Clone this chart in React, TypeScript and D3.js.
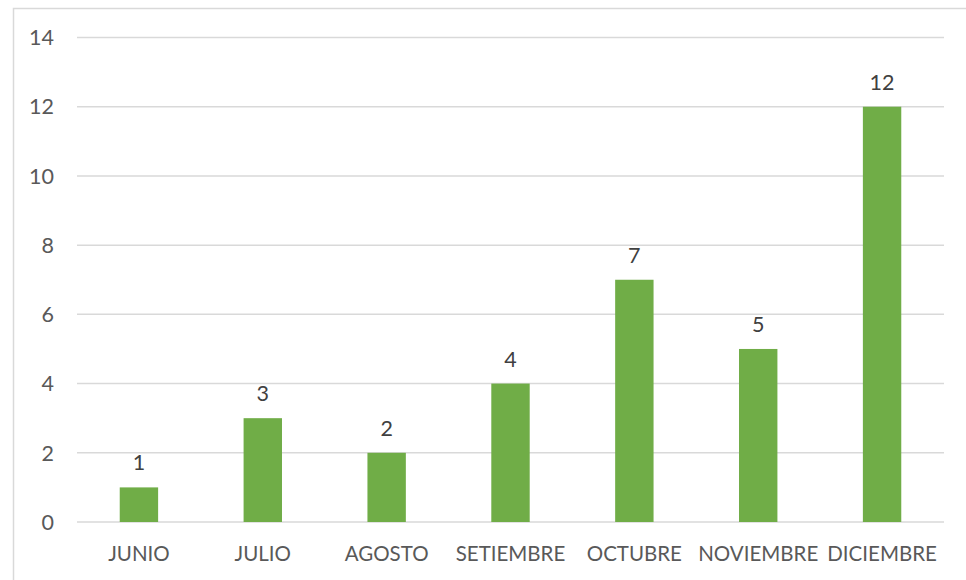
import React, { useRef, useEffect } from 'react';
import * as d3 from 'd3';

const months: string[] = ['JUNIO', 'JULIO', 'AGOSTO', 'SETIEMBRE', 'OCTUBRE', 'NOVIEMBRE', 'DICIEMBRE'];
const counts: number[] = [1, 3, 2, 4, 7, 5, 12];
const yTicks: number[] = [0, 2, 4, 6, 8, 10, 12, 14];

const App: React.FC = () => {
  const svgRef = useRef<SVGSVGElement | null>(null);

  useEffect(() => {
    if (!svgRef.current) return;
    const width = 966;
    const height = 580;
    const margin = { top: 37.5, right: 22, bottom: 58, left: 77 };
    const font = 'Lato, "Open Sans", sans-serif';
    const textColor = '#595959';

    const svg = d3.select(svgRef.current)
      .attr('width', width)
      .attr('height', height);
    svg.selectAll('*').remove();

    // chart frame (right/bottom edges fall outside the picture)
    svg.append('rect')
      .attr('x', 13.5).attr('y', 8.5)
      .attr('width', 1000).attr('height', 1000)
      .attr('fill', '#fff')
      .attr('stroke', '#d9d9d9')
      .attr('stroke-width', 1.5);

    const x = d3.scaleBand<string>()
      .domain(months)
      .range([margin.left, width - margin.right])
      .paddingInner(0.69)
      .paddingOuter(0.345);

    const y = d3.scaleLinear()
      .domain([0, 14])
      .range([height - margin.bottom, margin.top]);

    // gridlines
    svg.append('g')
      .selectAll('line')
      .data(yTicks)
      .join('line')
      .attr('x1', margin.left)
      .attr('x2', width - margin.right)
      .attr('y1', d => y(d))
      .attr('y2', d => y(d))
      .attr('stroke', '#d9d9d9')
      .attr('stroke-width', 1.5);

    // y tick labels
    svg.append('g')
      .selectAll('text')
      .data(yTicks)
      .join('text')
      .attr('x', 54)
      .attr('y', d => y(d))
      .attr('dy', '0.36em')
      .attr('text-anchor', 'end')
      .attr('font-family', font)
      .attr('font-size', 21.5)
      .attr('fill', textColor)
      .text(d => d);

    // bars
    svg.append('g')
      .selectAll('rect')
      .data(counts)
      .join('rect')
      .attr('x', (d, i) => x(months[i]) as number)
      .attr('y', d => y(d))
      .attr('width', x.bandwidth())
      .attr('height', d => y(0) - y(d))
      .attr('fill', '#70ad47');

    // value labels
    svg.append('g')
      .selectAll('text')
      .data(counts)
      .join('text')
      .attr('x', (d, i) => (x(months[i]) as number) + x.bandwidth() / 2)
      .attr('y', d => y(d) - 17)
      .attr('text-anchor', 'middle')
      .attr('font-family', font)
      .attr('font-size', 21.5)
      .attr('fill', '#404040')
      .text(d => d);

    // x labels
    svg.append('g')
      .selectAll('text')
      .data(months)
      .join('text')
      .attr('x', d => (x(d) as number) + x.bandwidth() / 2)
      .attr('y', y(0) + 38.5)
      .attr('text-anchor', 'middle')
      .attr('font-family', font)
      .attr('font-size', 20.5)
      .attr('fill', textColor)
      .text(d => d);
  }, []);

  return <svg ref={svgRef} style={{ position: 'absolute', left: 0, top: 0 }}></svg>;
};

export default App;
